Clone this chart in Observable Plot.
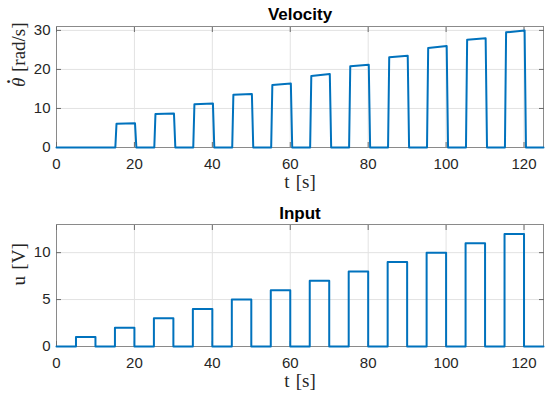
<!DOCTYPE html>
<html><head><meta charset="utf-8">
<script src="https://cdn.jsdelivr.net/npm/d3@7"></script>
<script src="https://cdn.jsdelivr.net/npm/@observablehq/plot@0.6"></script>
<style>body{margin:0;background:#fff} #chart svg{display:block}</style>
</head><body><div id="chart"></div>
<script>
// ---- data ----
const pulseStart = [5, 15, 25, 35, 45, 55, 65, 75, 85, 95, 105, 115];
const pulseWidth = 5;
const inputLevel = [1, 2, 3, 4, 5, 6, 7, 8, 9, 10, 11, 12];
const velStart = [0, 6.1, 8.6, 11.1, 13.5, 16.0, 18.3, 20.8, 23.1, 25.5, 27.6, 29.5];
const velEnd   = [0, 6.2, 8.7, 11.3, 13.7, 16.4, 18.8, 21.2, 23.5, 26.0, 28.0, 30.0];
const tEnd = 125;
const xTicks = [0, 20, 40, 60, 80, 100, 120];
const velTicks = [0, 10, 20, 30];
const inTicks = [0, 5, 10];
const velTitle = "Velocity", inTitle = "Input";
const xLabel = "t\u2004[s]";
const velLabel = "\u03B8\u02D9\u2004[rad/s]";
const inLabel = "u\u2004[V]";

// ---- build series ----
const inputData = [{t: 0, y: 0}];
pulseStart.forEach((s, i) => {
  inputData.push({t: s, y: 0}, {t: s, y: inputLevel[i]},
                 {t: s + pulseWidth, y: inputLevel[i]}, {t: s + pulseWidth, y: 0});
});
inputData.push({t: tEnd, y: 0});

const velData = [{t: 0, y: 0}];
pulseStart.forEach((s, i) => {
  if (velStart[i] === 0) return;
  velData.push({t: s + 0.1, y: 0}, {t: s + 0.4, y: velStart[i]},
               {t: s + pulseWidth + 0.15, y: velEnd[i]}, {t: s + pulseWidth + 0.5, y: 0});
});
velData.push({t: tEnd, y: 0});

const blue = "#0072BD";
const axisGray = "#8a8a8a";
const serif = "Liberation Serif, Times New Roman, serif";

function panel({data, yDomain, yTicks, title, ylabel, marginTop, titleDy}) {
  return Plot.plot({
    width: 550, height: 199,
    marginLeft: 56, marginRight: 7, marginTop, marginBottom: 52,
    style: {fontFamily: "Liberation Sans, Arial, sans-serif", fontSize: "15px", color: "#262626", background: "#fff", overflow: "visible"},
    x: {domain: [0, tEnd]},
    y: {domain: yDomain},
    marks: [
      Plot.gridX(xTicks, {stroke: "#e2e2e2", strokeOpacity: 1}),
      Plot.gridY(yTicks, {stroke: "#e2e2e2", strokeOpacity: 1}),
      Plot.frame({stroke: axisGray}),
      Plot.axisX(xTicks, {anchor: "bottom", tickSize: 0, tickPadding: 11, label: null, fill: "#262626"}),
      Plot.axisY(yTicks, {anchor: "left", tickSize: 0, tickPadding: 6, label: null, fill: "#262626"}),
      Plot.axisX(xTicks, {anchor: "bottom", tickSize: -5, tickFormat: () => "", label: null, stroke: "#6a6a6a"}),
      Plot.axisX(xTicks, {anchor: "top", tickSize: -5, tickFormat: () => "", label: null, stroke: "#6a6a6a"}),
      Plot.axisY(yTicks, {anchor: "left", tickSize: -5, tickFormat: () => "", label: null, stroke: "#6a6a6a"}),
      Plot.axisY(yTicks, {anchor: "right", tickSize: -5, tickFormat: () => "", label: null, stroke: "#6a6a6a"}),
      Plot.line(data, {x: "t", y: "y", stroke: blue, strokeWidth: 2}),
      Plot.text([title], {text: d => d, frameAnchor: "top", dy: titleDy, lineAnchor: "bottom", fontWeight: "bold", fontSize: 17, fill: "#000"}),
      Plot.text([xLabel], {text: d => d, frameAnchor: "bottom", dy: 34, lineAnchor: "middle", fontFamily: serif, fontSize: 19, fill: "#262626"}),
      Plot.text([ylabel], {text: d => d, frameAnchor: "left", dx: -38, rotate: -90, lineAnchor: "middle", fontFamily: serif, fontSize: 19, fill: "#262626"})
    ]
  });
}

const velChart = panel({data: velData, yDomain: [0, 31], yTicks: velTicks, title: velTitle, ylabel: velLabel, marginTop: 26, titleDy: -7});
const inChart = panel({data: inputData, yDomain: [0, 13], yTicks: inTicks, title: inTitle, ylabel: inLabel, marginTop: 25, titleDy: -6});

// italic theta with a dot above in the velocity label
const ns = "http://www.w3.org/2000/svg";
velChart.querySelectorAll("text").forEach(el => {
  if (el.textContent === velLabel) {
    el.textContent = "";
    const a = document.createElementNS(ns, "tspan");
    a.setAttribute("font-style", "italic");
    a.textContent = "\u03B8";
    const d = document.createElementNS(ns, "tspan");
    d.setAttribute("dx", "-7");
    d.setAttribute("dy", "-5");
    d.setAttribute("font-weight", "bold");
    d.textContent = "\u02D9";
    const b = document.createElementNS(ns, "tspan");
    b.setAttribute("dy", "5");
    b.textContent = "\u2004[rad/s]";
    el.appendChild(a); el.appendChild(d); el.appendChild(b);
  }
});

const div = document.getElementById("chart");
div.appendChild(velChart);
div.appendChild(inChart);
</script>
</body></html>
